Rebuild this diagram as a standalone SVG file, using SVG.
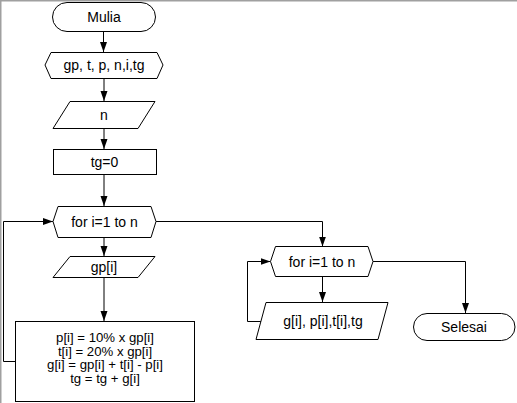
<svg xmlns="http://www.w3.org/2000/svg" width="517" height="403" viewBox="0 0 517 403">
<style>
.s{fill:#fff;stroke:#000;stroke-width:1}
.t{font-family:"Liberation Sans",Arial,sans-serif;font-size:14px;fill:#000;text-anchor:middle}
.p{font-size:13.2px}
.c{fill:none;stroke:#000;stroke-width:1}
.frame{stroke:#a0a0a0;stroke-width:1.5;fill:none}
</style>
<defs>
<marker id="ah" markerUnits="userSpaceOnUse" markerWidth="10" markerHeight="8" refX="10" refY="4" orient="auto">
<path d="M0,0.5 L10,4 L0,7.5 z" fill="#000"/>
</marker>
</defs>
<rect width="517" height="403" fill="#fff"/>
<path class="frame" d="M0.75,403 V0.75 H517"/>
<g id="connectors">
<path class="c" d="M103.5,31 V52" marker-end="url(#ah)"/>
<path class="c" d="M104,78 V101" marker-end="url(#ah)"/>
<path class="c" d="M104,128 V149" marker-end="url(#ah)"/>
<path class="c" d="M104,174 V206" marker-end="url(#ah)"/>
<path class="c" d="M104,237 V256" marker-end="url(#ah)"/>
<path class="c" d="M104,277 V321" marker-end="url(#ah)"/>
<path class="c" d="M15,361.5 H3.5 V221.5 H53" marker-end="url(#ah)"/>
<path class="c" d="M156,221.5 H322.5 V246.5" marker-end="url(#ah)"/>
<path class="c" d="M322.5,276 V302" marker-end="url(#ah)"/>
<path class="c" d="M261,321.5 H247.5 V261.5 H270.5" marker-end="url(#ah)"/>
<path class="c" d="M373,261.5 H465.5 V313" marker-end="url(#ah)"/>
</g>
<g id="start">
<rect class="s" x="52.5" y="2.5" width="103" height="29" rx="14.5"/>
<text class="t" x="104" y="21.5">Mulia</text>
</g>
<g id="declare">
<polygon class="s" points="45,65 51,52.5 157,52.5 163,65 157,78.5 51,78.5"/>
<text class="t" x="104" y="70">gp, t, p, n,i,tg</text>
</g>
<g id="input-n">
<polygon class="s" points="70,101.5 155,101.5 138,128.5 53,128.5"/>
<text class="t" x="104" y="120">n</text>
</g>
<g id="init-tg">
<rect class="s" x="53.5" y="149.5" width="103" height="25"/>
<text class="t" x="104.5" y="167">tg=0</text>
</g>
<g id="loop1">
<polygon class="s" points="53,221.5 58,206.5 151,206.5 156,221.5 151,237.5 58,237.5"/>
<text class="t" x="104.5" y="226.5">for i=1 to n</text>
</g>
<g id="input-gp">
<polygon class="s" points="70,256.5 155,256.5 138,277.5 53,277.5"/>
<text class="t" x="104" y="272">gp[i]</text>
</g>
<g id="process">
<rect class="s" x="15.5" y="321.5" width="179" height="80"/>
<text class="t p" x="105" y="342">p[i] = 10% x gp[i]</text>
<text class="t p" x="105" y="355.5">t[i] = 20% x gp[i]</text>
<text class="t p" x="105" y="369">g[i] = gp[i] + t[i] - p[i]</text>
<text class="t p" x="105" y="382.5">tg = tg + g[i]</text>
</g>
<g id="loop2">
<polygon class="s" points="270.5,261.5 275.5,246.5 368,246.5 373,261.5 368,276.5 275.5,276.5"/>
<text class="t" x="322" y="266.5">for i=1 to n</text>
</g>
<g id="output">
<polygon class="s" points="266,302.5 388,302.5 378,339.5 256,339.5"/>
<text class="t" x="323" y="326">g[i], p[i],t[i],tg</text>
</g>
<g id="end">
<rect class="s" x="413.5" y="313.5" width="101.5" height="27" rx="13.5"/>
<text class="t" x="464" y="332">Selesai</text>
</g>
</svg>
